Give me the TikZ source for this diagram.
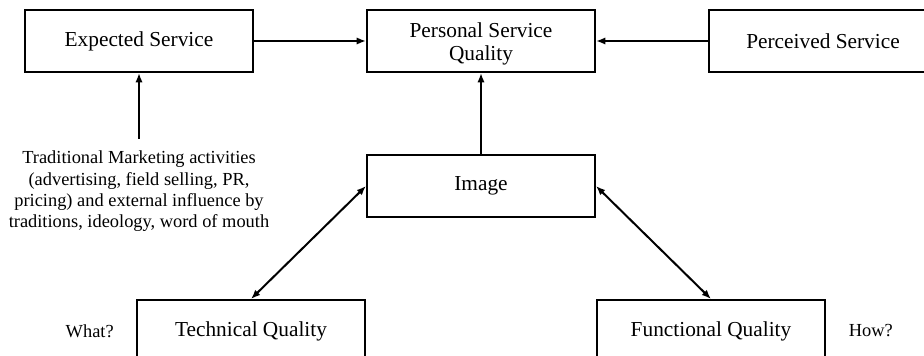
\documentclass[tikz,border=0pt]{standalone}
\usepackage{fontspec}
\setmainfont{Liberation Serif}
\usepackage{tikz}
\usetikzlibrary{arrows.meta, positioning}
\tikzset{
  qbox/.style={draw, line width=1.5pt, align=center, minimum height=46.5pt,
    minimum width=171pt, inner sep=0pt, font=\fontsize{16}{17.5}\selectfont},
  note/.style={align=center, inner sep=0pt, font=\fontsize{13.8}{16}\selectfont},
  arrow/.style={-{Latex[length=7pt, width=5.5pt]}, line width=1.5pt},
  biarrow/.style={{Latex[length=7pt, width=5.5pt]}-{Latex[length=7pt, width=5.5pt]}, line width=1.5pt}
}

\begin{document}
\begin{tikzpicture}[x=0.75pt, y=-0.75pt]
      \clip (0,0) rectangle (924,356);

      % === Top row ===
      \node[qbox, text height=29.5pt, text depth=0pt] (pers) at (481,41) {Personal Service\\Quality};
      \node[qbox, left=84pt of pers] (expect) {Expected Service};
      \node[qbox, right=84pt of pers] (perc) {Perceived Service};

      \draw[arrow] (expect) -- (pers);
      \draw[arrow] (perc) -- (pers);

      % Marketing influences
      \node[note, outer ysep=9pt, below=49.5pt of expect] (mkt)
        {Traditional Marketing activities\\(advertising, field selling, PR,\\
         pricing) and external influence by\\traditions, ideology, word of mouth};
      \draw[arrow] (mkt.north) -- (expect.south);

      % === Image and its two dimensions ===
      \node[qbox, below=60.75pt of pers] (img) {Image};
      \draw[arrow] (img) -- (pers);

      \node[qbox, below left=60.75pt and 0pt of img.south west] (tech) {Technical Quality};
      \node[qbox, below right=60.75pt and 0pt of img.south east] (func) {Functional Quality};

      \node[note, left=16.5pt of tech] (what) {What?};
      \node[note, right=17pt of func] (how) {How?};

      \draw[biarrow] (tech.north) -- (img.west);
      \draw[biarrow] (img.east) -- (func.north);
    \end{tikzpicture}
\end{document}
